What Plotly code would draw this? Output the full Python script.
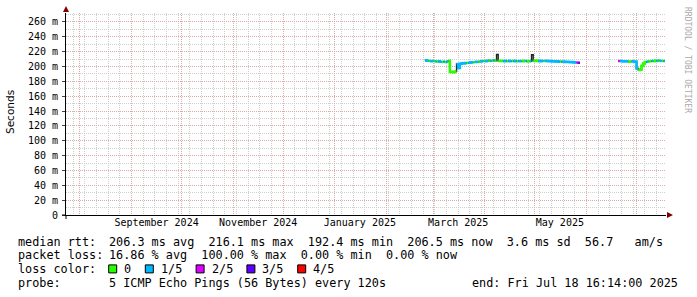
import pandas as pd
import plotly.graph_objects as go

# ---------------- data ----------------
end_time = pd.Timestamp("2025-07-18 16:14:00")
span_days = 360

seg_a_dates = pd.date_range("2025-02-24", "2025-05-27", freq="D")
seg_a_rtt = [
    208.5, 208.0, 207.8, 207.5, 207.2,                      # Feb 24-28
    207.5, 207.0, 206.8, 207.0, 206.5, 206.2, 206.6, 206.0, 206.8, 207.6,  # Mar 1-10
    193.0, 192.6, 192.4, 193.2, 203.5, 198.0, 203.8, 204.5, 204.2, 204.6,  # Mar 11-20
    204.8, 205.0, 205.4, 205.6, 205.8, 206.0, 206.4, 206.6, 207.0, 207.2, 207.6,  # Mar 21-31
    207.2, 207.8, 208.2, 207.6, 208.0, 208.4, 207.8, 216.1, 207.8, 207.4,  # Apr 1-10
    207.6, 207.2, 207.6, 207.2, 207.6, 207.2, 207.6, 207.2, 207.6, 207.0,  # Apr 11-20
    207.4, 207.2, 207.6, 207.2, 207.6, 207.0, 207.4, 207.2, 215.8, 207.6,  # Apr 21-30
    208.0, 207.4, 207.6, 207.2, 207.8, 207.4, 207.6, 207.4, 207.2, 207.4,  # May 1-10
    207.0, 207.2, 206.8, 207.0, 206.6, 206.8, 206.4, 206.6, 206.2, 206.4,  # May 11-20
    206.0, 205.8, 206.0, 205.6, 205.4, 205.2, 205.0,                      # May 21-27
]
seg_a_loss = [
    1, 1, 0, 1, 1,
    0, 1, 0, 1, 1, 0, 1, 0, 1, 0,
    0, 0, 0, 0, 1, 1, 1, 1, 1, 1,
    0, 1, 1, 1, 0, 1, 1, 0, 1, 1, 0,
    1, 1, 0, 1, 0, 1, 0, -1, 0, 0,
    0, 1, 1, 0, 1, 1, 0, 1, 1, 0,
    1, 1, 0, 0, 1, 0, 0, 1, -1, 0,
    0, 0, 1, 1, 1, 0, 1, 1, 1, 1,
    1, 1, 1, 1, 1, 0, 1, 1, 1, 1,
    1, 1, 1, 1, 1, 2, 3,
]

seg_b_dates = pd.date_range("2025-06-20", "2025-07-17", freq="D")
seg_b_rtt = [
    207.5, 207.4, 207.2, 207.0, 207.2, 207.0, 206.8, 206.6, 207.0, 206.8, 206.6,  # Jun 20-30
    197.5, 195.5, 196.0, 201.0, 204.0, 206.0, 206.6, 207.0, 207.2, 207.6,  # Jul 1-10
    207.2, 208.0, 207.6, 208.2, 207.6, 207.6, 207.4,                      # Jul 11-17
]
seg_b_loss = [
    2, 1, 1, 1, 1, 1, 0, 0, 1, 1, 1,
    1, 0, 0, 0, 0, 0, 1, 0, 0, 1,
    0, 0, 1, 0, 1, 0, 1,
]

loss_levels = [0, 1, 2, 3, 4]
loss_labels = ["0", "1/5", "2/5", "3/5", "4/5"]
loss_colors = ["#26ff00", "#00b8ff", "#dd00ff", "#5e00ff", "#ff0000"]

y_ticks = list(range(0, 261, 20))
y_ticktext = ["0" if v == 0 else f"{v} m" for v in y_ticks]

x_label_dates = ["2024-09-16", "2024-11-16", "2025-01-16", "2025-03-16", "2025-05-16"]
x_label_text = ["September 2024", "November 2024", "January 2025", "March 2025", "May 2025"]

stats_rows = [
    ("median rtt:", "206.3 ms avg  216.1 ms max  192.4 ms min  206.5 ms now  3.6 ms sd  56.7   am/s"),
    ("packet loss:", "16.86 % avg  100.00 % max  0.00 % min  0.00 % now"),
]
probe_text = "5 ICMP Echo Pings (56 Bytes) every 120s"
end_text = "end: Fri Jul 18 16:14:00 2025"

# ---------------- geometry ----------------
W, H = 697, 297
L, R, T, B = 66, 31, 13, 82
PW, PH = W - L - R, H - T - B
Y_MAX = 272.1


def px2x(px):
    return (px - L) / PW


def py2y(py):
    return (H - B - py) / PH


# ---------------- traces ----------------
segments = [(seg_a_dates, seg_a_rtt, seg_a_loss), (seg_b_dates, seg_b_rtt, seg_b_loss)]
one_day = pd.Timedelta(days=1)

fig = go.Figure()

# dark median line
mx, my = [], []
for d, v, _ in segments:
    mx += list(d) + [d[-1] + one_day, None]
    my += list(v) + [v[-1], None]
fig.add_trace(go.Scatter(x=mx, y=my, mode="lines", line=dict(color="#202020", width=1.4, shape="hv"),
                         hoverinfo="skip"))

# loss-coloured median overlay
for lvl, col in zip(loss_levels, loss_colors):
    cx, cy = [], []
    for d, v, ls in segments:
        i = 0
        n = len(v)
        while i < n:
            if ls[i] == lvl:
                j = i
                while j + 1 < n and ls[j + 1] == lvl:
                    j += 1
                cx += list(d[i:j + 1]) + [d[j] + one_day, None]
                cy += list(v[i:j + 1]) + [v[j], None]
                i = j + 1
            else:
                i += 1
    if cx:
        fig.add_trace(go.Scatter(x=cx, y=cy, mode="lines", line=dict(color=col, width=2.6, shape="hv"),
                                 hoverinfo="skip"))

# ---------------- axes ----------------
minor_grid = "#cfcfcf"
major_grid = "#dcaaaa"
mono = "DejaVu Sans Mono"

fig.update_layout(
    width=W, height=H,
    margin=dict(l=L, r=R, t=T, b=B, pad=0),
    paper_bgcolor="white", plot_bgcolor="white",
    showlegend=False,
    font=dict(family=mono, size=10, color="black"),
    xaxis=dict(
        type="date",
        range=[end_time - pd.Timedelta(days=span_days), end_time],
        showgrid=True, gridcolor=major_grid, griddash="1px,1px", gridwidth=1,
        tick0="2024-08-01", dtick="M1",
        showticklabels=False, ticks="",
        minor=dict(tick0="2024-07-21", dtick=7 * 86400000, showgrid=True,
                   gridcolor=minor_grid, griddash="1px,1px", gridwidth=1),
        showline=True, linecolor="black", linewidth=1,
        zeroline=False,
    ),
    xaxis2=dict(
        type="date", overlaying="x", matches="x", side="bottom", anchor="y",
        tickmode="array", tickvals=x_label_dates, ticktext=x_label_text,
        showgrid=False, ticks="", showline=False, zeroline=False,
        tickfont=dict(family=mono, size=10, color="black"),
    ),
    yaxis=dict(
        range=[0, Y_MAX],
        tickmode="array", tickvals=y_ticks, ticktext=y_ticktext,
        showgrid=True, gridcolor=major_grid, griddash="1px,1px", gridwidth=1,
        minor=dict(tickmode="linear", tick0=0, dtick=10, showgrid=True,
                   gridcolor=minor_grid, griddash="1px,1px", gridwidth=1),
        ticks="outside", ticklen=3, tickcolor="#444",
        showline=True, linecolor="black", linewidth=1,
        zeroline=False,
        tickfont=dict(family=mono, size=10, color="black"),
        ticklabelstandoff=2,
    ),
)
# invisible trace so xaxis2 is drawn
fig.add_trace(go.Scatter(x=[x_label_dates[0]], y=[None], xaxis="x2", yaxis="y", showlegend=False,
                         hoverinfo="skip"))

# axis extensions past the origin
fig.add_shape(type="line", xref="paper", yref="paper", xsizemode="pixel", xanchor=0,
              x0=-4, x1=0, y0=0, y1=0, line=dict(color="black", width=1))
fig.add_shape(type="line", xref="paper", yref="paper", ysizemode="pixel", yanchor=0,
              x0=0, x1=0, y0=-4, y1=0, line=dict(color="black", width=1))

# axis arrows
arrow_col = "#800000"
fig.add_shape(type="path", xref="paper", yref="paper", xsizemode="pixel", ysizemode="pixel",
              xanchor=1, yanchor=0, path="M 1 -3 L 7 0 L 1 3 Z",
              fillcolor=arrow_col, line=dict(color=arrow_col, width=0))
fig.add_shape(type="path", xref="paper", yref="paper", xsizemode="pixel", ysizemode="pixel",
              xanchor=0, yanchor=1, path="M -3 1 L 3 1 L 0 7 Z",
              fillcolor=arrow_col, line=dict(color=arrow_col, width=0))

# y title
fig.add_annotation(text="Seconds", x=px2x(10), y=py2y(112), xref="paper", yref="paper",
                   textangle=-90, showarrow=False, xanchor="center", yanchor="middle",
                   font=dict(family="DejaVu Sans", size=10.5, color="black"))

# watermark
fig.add_annotation(text="RRDTOOL / TOBI OETIKER", x=px2x(688), y=py2y(60), xref="paper", yref="paper",
                   textangle=90, showarrow=False, xanchor="center", yanchor="middle",
                   font=dict(family=mono, size=8, color="#aaaaaa"))

# ---------------- legend / statistics text ----------------
NB = "\u00a0"
ROW_Y = [241.7, 255.2, 268.9, 282.6]
TXT = dict(family=mono, size=11.8, color="black")
CHAR = 7.1


def text_at(s, px, py, anchor="left"):
    fig.add_annotation(text=s.replace(" ", NB), x=px2x(px), y=py2y(py), xref="paper", yref="paper",
                       showarrow=False, xanchor=anchor, yanchor="middle", font=TXT)


for r, (head, line) in enumerate(stats_rows):
    text_at(head, 16, ROW_Y[r])
    text_at(line, 107.3, ROW_Y[r])

text_at("loss color:", 16, ROW_Y[2])
bx = 108.7
for lab, col in zip(loss_labels, loss_colors):
    fig.add_shape(type="rect", xref="paper", yref="paper",
                  x0=px2x(bx), x1=px2x(bx + 8), y0=py2y(ROW_Y[2] + 4), y1=py2y(ROW_Y[2] - 4),
                  fillcolor=col, line=dict(color="black", width=1))
    lx = bx + 13.5
    text_at(lab, lx, ROW_Y[2])
    bx = lx + len(lab) * CHAR + 16.0

text_at("probe:", 16, ROW_Y[3])
text_at(probe_text, 107.3, ROW_Y[3])
text_at(end_text, 680, ROW_Y[3], anchor="right")

fig.write_html("out.html")
